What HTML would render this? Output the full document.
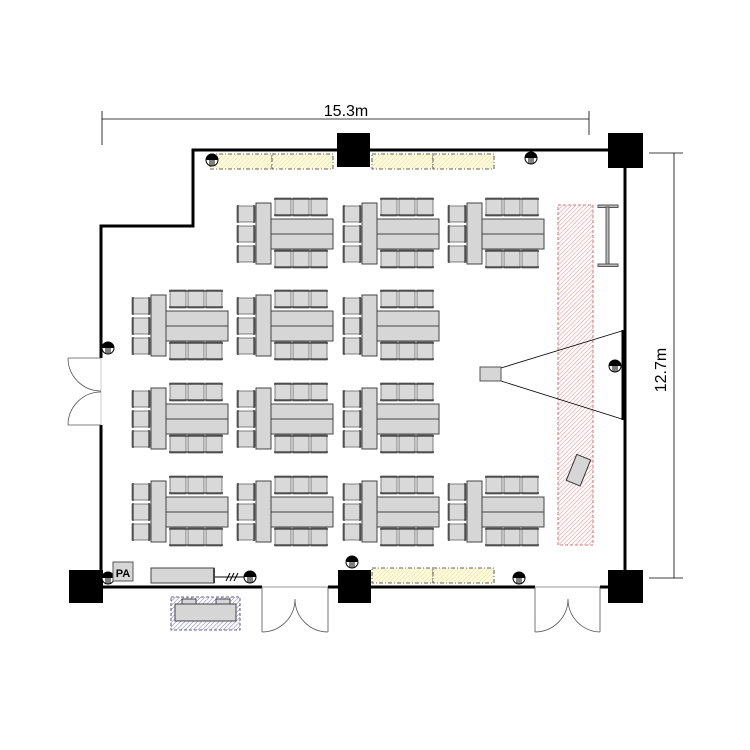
<!DOCTYPE html>
<html><head><meta charset="utf-8"><style>html,body{margin:0;padding:0;background:#fff}svg{display:block}</style></head>
<body>
<svg width="750" height="750" viewBox="0 0 750 750" xmlns="http://www.w3.org/2000/svg">
<defs>
<pattern id="red" patternUnits="userSpaceOnUse" width="3" height="3" patternTransform="rotate(45)"><rect width="3" height="3" fill="#fff"/><line x1="0" y1="0" x2="0" y2="3" stroke="#e88" stroke-width="1"/></pattern>
<pattern id="yel" patternUnits="userSpaceOnUse" width="3" height="3" patternTransform="rotate(45)"><rect width="3" height="3" fill="#fffbe0"/><line x1="0" y1="0" x2="0" y2="3" stroke="#e8dc90" stroke-width="1"/></pattern>
<pattern id="blu" patternUnits="userSpaceOnUse" width="3" height="3" patternTransform="rotate(45)"><rect width="3" height="3" fill="#fff"/><line x1="0" y1="0" x2="0" y2="3" stroke="#77c" stroke-width="1"/></pattern>
<g id="ch"><rect x="0" y="0" width="16" height="18" fill="#d9d9d9" stroke="#666" stroke-width="0.8"/><line x1="-1" y1="1" x2="17" y2="1" stroke="#333" stroke-width="1.2"/><line x1="-1" y1="17" x2="17" y2="17" stroke="#333" stroke-width="1.2"/></g>
<g id="chl"><rect x="0" y="0" width="18" height="16" fill="#d9d9d9" stroke="#666" stroke-width="0.8"/><line x1="1" y1="-1" x2="1" y2="17" stroke="#333" stroke-width="1.2"/><line x1="17" y1="-1" x2="17" y2="17" stroke="#333" stroke-width="1.2"/></g>
<g id="grp">
<use href="#ch" x="39" y="-5"/><use href="#ch" x="57" y="-5"/><use href="#ch" x="75" y="-5"/>
<use href="#ch" x="39" y="47"/><use href="#ch" x="57" y="47"/><use href="#ch" x="75" y="47"/>
<use href="#chl" x="1" y="3"/><use href="#chl" x="1" y="23"/><use href="#chl" x="1" y="43"/>
<rect x="20" y="0" width="15" height="61" fill="#d6d6d6" stroke="#444" stroke-width="1"/>
<rect x="35" y="16" width="62" height="30" fill="#d6d6d6" stroke="#444" stroke-width="1"/>
<line x1="35" y1="31" x2="97" y2="31" stroke="#444" stroke-width="1"/>
</g>
<g id="out"><circle cx="0" cy="0" r="6" fill="#fff" stroke="#000" stroke-width="1"/><path d="M-6,0 A6,6 0 0 1 6,0 Z" fill="#000"/><line x1="-2" y1="0" x2="-2" y2="6" stroke="#000"/><line x1="0" y1="0" x2="0" y2="6" stroke="#000"/><line x1="2" y1="0" x2="2" y2="6" stroke="#000"/></g>
</defs>

<line x1="102" y1="119" x2="589" y2="119" stroke="#000" stroke-width="0.8"/>
<line x1="102" y1="111" x2="102" y2="145" stroke="#000" stroke-width="0.8"/>
<line x1="589" y1="111" x2="589" y2="135" stroke="#000" stroke-width="0.8"/>
<text x="346" y="116" font-family="Liberation Sans, sans-serif" font-size="16" text-anchor="middle">15.3m</text>
<line x1="674" y1="153" x2="674" y2="578" stroke="#000" stroke-width="0.8"/>
<line x1="649" y1="153" x2="683" y2="153" stroke="#000" stroke-width="0.8"/>
<line x1="649" y1="578" x2="683" y2="578" stroke="#000" stroke-width="0.8"/>
<text transform="translate(666,370) rotate(-90)" font-family="Liberation Sans, sans-serif" font-size="16" text-anchor="middle">12.7m</text>

<polyline points="625,150 193,150 193,226 101,226 101,358" fill="none" stroke="#000" stroke-width="3"/>
<line x1="101" y1="425" x2="101" y2="587" stroke="#000" stroke-width="3"/>
<line x1="101" y1="358" x2="101" y2="425" stroke="#ccc" stroke-width="1"/>
<line x1="101" y1="587" x2="262" y2="587" stroke="#000" stroke-width="3"/>
<line x1="328" y1="587" x2="535" y2="587" stroke="#000" stroke-width="3"/>
<line x1="600" y1="587" x2="625" y2="587" stroke="#000" stroke-width="3"/>
<line x1="625" y1="150" x2="625" y2="587" stroke="#000" stroke-width="3"/>
<line x1="262" y1="587" x2="328" y2="587" stroke="#999" stroke-width="1"/>
<line x1="535" y1="587" x2="600" y2="587" stroke="#999" stroke-width="1"/>
<line x1="624" y1="330" x2="624" y2="420" stroke="#000" stroke-width="5"/>

<g fill="none" stroke="#555" stroke-width="0.8">
<path d="M101,358 H68 M68,358 A33,33 0 0 0 101,391 M101,425 H68 M68,425 A33,33 0 0 1 101,392"/>
<path d="M262,587 V632 M262,632 A33,33 0 0 0 295,599 M328,587 V632 M328,632 A33,33 0 0 1 295,599"/>
<path d="M535,587 V632 M535,632 A33,33 0 0 0 568,599 M600,587 V632 M600,632 A33,33 0 0 1 568,599"/>
</g>

<rect x="337" y="133" width="33" height="34" fill="#000"/>
<rect x="608" y="133" width="35" height="35" fill="#000"/>
<rect x="69" y="570" width="34" height="33" fill="#000"/>
<rect x="338" y="570" width="33" height="33" fill="#000"/>
<rect x="608" y="570" width="35" height="33" fill="#000"/>

<g stroke="#333" stroke-width="0.8" stroke-dasharray="4,2,1,2" fill="url(#yel)">
<rect x="210" y="154" width="62" height="15"/><rect x="272" y="154" width="61" height="15"/>
<rect x="372" y="154" width="61" height="15"/><rect x="433" y="154" width="61" height="15"/>
<rect x="372" y="568" width="61" height="15"/><rect x="433" y="568" width="61" height="15"/>
</g>

<rect x="558" y="205" width="35" height="340" fill="url(#red)" stroke="#c55" stroke-width="0.8" stroke-dasharray="3,2"/>
<g stroke="#555" fill="#bbb"><rect x="598" y="205" width="20" height="2.5"/><rect x="598" y="264" width="20" height="2.5"/><rect x="606" y="207" width="3" height="57"/></g>
<line x1="501" y1="368" x2="625" y2="330" stroke="#000" stroke-width="0.8"/>
<line x1="501" y1="381" x2="625" y2="420" stroke="#000" stroke-width="0.8"/>
<rect x="480" y="367" width="21" height="14" fill="#d6d6d6" stroke="#555"/>
<rect x="571" y="456" width="15" height="28" fill="#d6d6d6" stroke="#333" transform="rotate(22 578 470)"/>

<use href="#grp" x="236" y="203"/><use href="#grp" x="342" y="203"/><use href="#grp" x="447" y="203"/>
<use href="#grp" x="131" y="295"/><use href="#grp" x="236" y="295"/><use href="#grp" x="342" y="295"/>
<use href="#grp" x="131" y="388"/><use href="#grp" x="236" y="388"/><use href="#grp" x="342" y="388"/>
<use href="#grp" x="131" y="481"/><use href="#grp" x="236" y="481"/><use href="#grp" x="342" y="481"/><use href="#grp" x="447" y="481"/>

<use href="#out" x="212" y="160"/><use href="#out" x="531" y="158"/>
<use href="#out" x="108" y="348"/><use href="#out" x="615" y="366"/>
<use href="#out" x="108" y="578"/><use href="#out" x="250" y="577"/>
<use href="#out" x="352" y="562"/><use href="#out" x="519" y="578"/>

<rect x="113" y="562" width="20" height="19" fill="#d6d6d6" stroke="#555"/>
<text x="123" y="577" font-family="Liberation Sans, sans-serif" font-size="11" font-weight="bold" text-anchor="middle">PA</text>
<rect x="151" y="568" width="63" height="15" fill="#d6d6d6" stroke="#444"/>
<line x1="214" y1="568" x2="214" y2="583" stroke="#444" stroke-width="2"/>
<line x1="215" y1="577" x2="244" y2="577" stroke="#000"/>
<path d="M226,581 l4,-8 M230,581 l4,-8 M234,581 l4,-8" stroke="#000"/>
<rect x="171" y="597" width="69" height="33" fill="url(#blu)" stroke="#336" stroke-width="0.8" stroke-dasharray="3,2"/>
<rect x="175" y="604" width="61" height="17" fill="#d6d6d6" stroke="#444"/>
<rect x="182" y="599" width="14" height="5" fill="#d6d6d6" stroke="#444"/>
<rect x="216" y="599" width="14" height="5" fill="#d6d6d6" stroke="#444"/>
</svg>
</body></html>
